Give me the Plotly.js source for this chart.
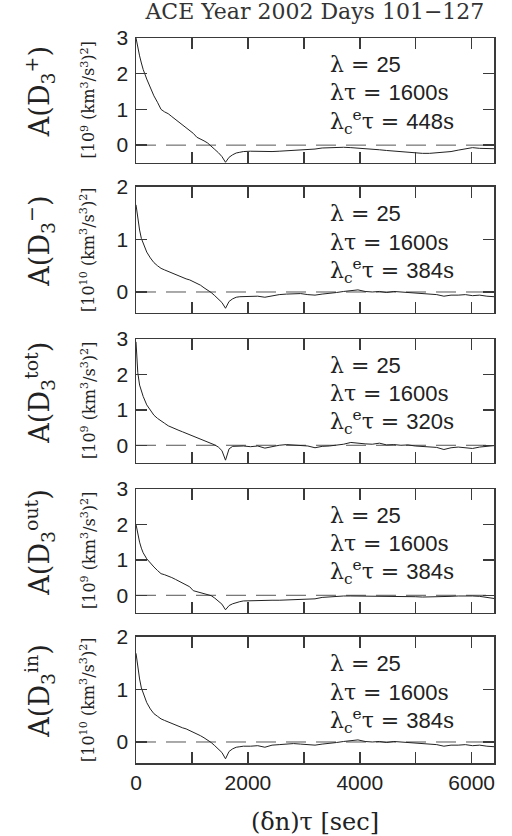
<!DOCTYPE html>
<html>
<head>
<meta charset="utf-8">
<script src="https://cdn.plot.ly/plotly-3.0.1.min.js"></script>
<style>html,body{margin:0;padding:0;background:#fff;}#chart{width:512px;height:836px;}</style>
</head>
<body>
<div id="chart"></div>
<script>
const lagTimes = [0,32,64,96,128,192,256,320,384,448,512,576,640,704,768,832,896,960,1024,1088,1152,1216,1280,1344,1408,1472,1536,1600,1664,1728,1792,1856,1920,
  2048,2176,2304,2432,2560,2688,2816,2944,3072,3200,3328,3456,3584,3712,3840,3968,4096,4224,4352,4480,4608,4736,4864,4992,5120,5248,5376,5504,5632,5760,5888,6016,6144,6272,6400];

const aPlus = [3.0,2.72,2.5,2.3,2.12,1.85,1.6,1.38,1.2,1.0,0.93,0.88,0.8,0.72,0.64,0.57,0.5,0.42,0.33,0.22,0.18,0.12,0.06,-0.02,-0.12,-0.21,-0.32,-0.48,-0.34,-0.27,-0.22,-0.2,-0.18,
  -0.17,-0.18,-0.17,-0.18,-0.17,-0.16,-0.14,-0.15,-0.13,-0.11,-0.08,-0.07,-0.06,-0.06,-0.07,-0.08,-0.1,-0.12,-0.13,-0.15,-0.17,-0.19,-0.21,-0.22,-0.23,-0.23,-0.22,-0.21,-0.18,-0.14,-0.1,-0.07,-0.09,-0.1,-0.1];

const aMinus = [1.66,1.4,1.18,1.02,0.93,0.76,0.65,0.56,0.5,0.45,0.42,0.39,0.36,0.33,0.31,0.28,0.25,0.23,0.2,0.17,0.13,0.08,0.04,-0.01,-0.07,-0.13,-0.2,-0.31,-0.18,-0.13,-0.1,-0.09,-0.09,
  -0.08,-0.08,-0.1,-0.07,-0.05,-0.04,-0.03,-0.03,-0.05,-0.06,-0.04,-0.03,-0.01,0.01,0.03,0.04,0.01,0.0,0.01,-0.01,0.01,0.0,-0.02,-0.03,-0.03,-0.05,-0.05,-0.08,-0.06,-0.06,-0.05,-0.07,-0.06,-0.08,-0.09];

const aTot = [2.92,2.05,1.7,1.5,1.38,1.14,0.98,0.85,0.76,0.68,0.62,0.55,0.5,0.46,0.42,0.38,0.34,0.3,0.27,0.23,0.19,0.15,0.11,0.06,0.01,-0.05,-0.15,-0.42,-0.1,-0.03,-0.02,-0.03,-0.02,
  -0.04,-0.02,-0.08,-0.03,0.0,0.02,0.01,0.01,-0.02,-0.07,-0.03,-0.02,0.0,0.03,0.08,0.05,0.04,0.03,0.06,0.01,0.02,0.0,0.01,-0.02,-0.03,-0.04,-0.06,-0.12,-0.07,-0.05,-0.06,-0.09,-0.05,-0.03,-0.01];

const aOut = [2.0,1.72,1.5,1.33,1.2,1.03,0.9,0.8,0.7,0.61,0.58,0.55,0.5,0.45,0.4,0.35,0.3,0.24,0.13,0.1,0.09,0.06,0.03,-0.01,-0.08,-0.16,-0.25,-0.41,-0.29,-0.24,-0.2,-0.18,-0.16,
  -0.15,-0.15,-0.15,-0.14,-0.14,-0.13,-0.14,-0.13,-0.12,-0.1,-0.06,-0.04,-0.03,-0.02,-0.02,-0.02,-0.02,-0.02,-0.03,-0.03,-0.03,-0.04,-0.04,-0.04,-0.05,-0.05,-0.05,-0.04,-0.03,-0.02,-0.01,-0.02,-0.03,-0.07,-0.09];

const aIn = [1.69,1.42,1.2,1.03,0.93,0.75,0.63,0.54,0.49,0.44,0.41,0.38,0.35,0.32,0.3,0.27,0.25,0.22,0.19,0.16,0.12,0.08,0.04,-0.01,-0.07,-0.13,-0.2,-0.32,-0.18,-0.13,-0.1,-0.09,-0.08,
  -0.08,-0.07,-0.1,-0.06,-0.05,-0.04,-0.03,-0.04,-0.05,-0.06,-0.04,-0.03,-0.01,0.01,0.02,0.04,0.01,0.0,0.01,-0.01,0.01,0.0,-0.02,-0.03,-0.03,-0.05,-0.05,-0.08,-0.06,-0.06,-0.05,-0.07,-0.06,-0.08,-0.09];

const panelSeries = [aPlus, aMinus, aTot, aOut, aIn];
const panelNames = ['A(D<sub>3</sub><sup>+</sup>)', 'A(D<sub>3</sub><sup>−</sup>)', 'A(D<sub>3</sub><sup>tot</sup>)', 'A(D<sub>3</sub><sup>out</sup>)', 'A(D<sub>3</sub><sup>in</sup>)'];
const panelUnits = ['[10<sup>9</sup> (km<sup>3</sup>/s<sup>3</sup>)<sup>2</sup>]', '[10<sup>10</sup> (km<sup>3</sup>/s<sup>3</sup>)<sup>2</sup>]', '[10<sup>9</sup> (km<sup>3</sup>/s<sup>3</sup>)<sup>2</sup>]', '[10<sup>9</sup> (km<sup>3</sup>/s<sup>3</sup>)<sup>2</sup>]', '[10<sup>10</sup> (km<sup>3</sup>/s<sup>3</sup>)<sup>2</sup>]'];
const panelYMin = [-0.5, -0.4, -0.5, -0.5, -0.4];
const panelYMax = [3, 2, 3, 3, 2];
const panelYTicks = [[0,1,2,3],[0,1,2],[0,1,2,3],[0,1,2,3],[0,1,2]];
const lambdaVals = ['25','25','25','25','25'];
const lambdaTau = ['1600','1600','1600','1600','1600'];
const lambdaCTau = ['448','384','320','384','384'];
const xTickVals = [0,1000,2000,3000,4000,5000,6000];
const xTickText = ['0','','2000','','4000','','6000'];

const domains = [[0.8276,1],[0.6207,0.7945],[0.4138,0.5848],[0.2069,0.3779],[0,0.1738]];

const SERIF2 = 'DejaVu Serif';
const SANS = 'Liberation Sans';
const frame = '#3a3a3a';

const data = [];
const layout = {
  width: 512, height: 836,
  margin: {l: 136, r: 18, t: 38, b: 73},
  paper_bgcolor: '#fff', plot_bgcolor: '#fff',
  showlegend: false,
  title: {text: 'ACE Year 2002 Days 101−127', font: {family: SERIF2, size: 22, color: '#333'}, x: 0.615, xanchor: 'center', y: 0.986, yanchor: 'middle'},
  annotations: [], shapes: []
};

panelSeries.forEach((ys, i) => {
  const n = i + 1;
  const xa = 'x' + (n === 1 ? '' : n), ya = 'y' + (n === 1 ? '' : n);
  const xk = 'xaxis' + (n === 1 ? '' : n), yk = 'yaxis' + (n === 1 ? '' : n);
  data.push({x: lagTimes, y: ys, xaxis: xa, yaxis: ya, type: 'scatter', mode: 'lines', line: {color: '#222', width: 1}, hoverinfo: 'skip'});
  layout[xk] = {
    domain: [0, 1], anchor: ya, range: [0, 6400], showgrid: false, zeroline: false,
    showline: true, linecolor: frame, linewidth: 1.5, mirror: 'ticks',
    ticks: 'inside', ticklen: 11, tickwidth: 1.5, tickcolor: frame,
    tickvals: xTickVals, ticktext: xTickText, showticklabels: n === 5,
    tickfont: {family: SANS, size: 21, color: '#222'}, ticklabelstandoff: 0
  };
  if (n === 5) {
    layout[xk].title = {text: '(δn)τ [sec]', font: {family: SERIF2, size: 24, color: '#222'}, standoff: 22};
  }
  layout[yk] = {
    domain: domains[i], anchor: xa, range: [panelYMin[i], panelYMax[i]], showgrid: false, zeroline: false,
    showline: true, linecolor: frame, linewidth: 1.5, mirror: 'ticks',
    ticks: 'inside', ticklen: 11, tickwidth: 1.5, tickcolor: frame,
    tickvals: panelYTicks[i], tickfont: {family: SANS, size: 21, color: '#222'}, ticklabelstandoff: 2
  };
  layout.shapes.push({type: 'line', xref: xa + ' domain', yref: ya, x0: 0, x1: 1, y0: 0, y1: 0, line: {color: '#555', width: 1, dash: '20px,10px'}, layer: 'below'});
  const ymid = (domains[i][0] + domains[i][1]) / 2;
  layout.annotations.push({text: panelNames[i], xref: 'paper', yref: 'paper', x: -0.27, y: ymid + 0.012, xanchor: 'center', yanchor: 'middle', textangle: -90, showarrow: false, font: {family: SERIF2, size: 27, color: '#222'}});
  layout.annotations.push({text: panelUnits[i], xref: 'paper', yref: 'paper', x: -0.134, y: ymid, xanchor: 'center', yanchor: 'middle', textangle: -90, showarrow: false, font: {family: SERIF2, size: 16, color: '#222'}});
  const lines = [
    'λ = <span style="font-family:Liberation Sans">' + lambdaVals[i] + '</span>',
    'λτ = <span style="font-family:Liberation Sans">' + lambdaTau[i] + '</span>s',
    'λ<sub>c</sub><sup>e</sup>τ = <span style="font-family:Liberation Sans">' + lambdaCTau[i] + '</span>s'
  ];
  const ys3 = [0.79, 0.56, 0.33];
  lines.forEach((t, k) => {
    layout.annotations.push({text: t, xref: xa + ' domain', yref: ya + ' domain', x: 0.535, y: ys3[k], xanchor: 'left', yanchor: 'middle', showarrow: false, font: {family: SERIF2, size: 22, color: '#222'}});
  });
});

Plotly.newPlot('chart', data, layout, {staticPlot: true, displayModeBar: false});
</script>
</body>
</html>
